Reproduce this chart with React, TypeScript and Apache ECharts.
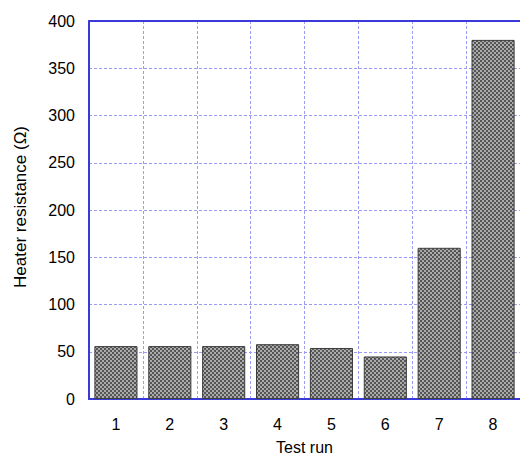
import React, { useEffect, useRef } from "react";
import * as echarts from "echarts";

const categories = ["1", "2", "3", "4", "5", "6", "7", "8"];
const resistance = [56, 56, 56, 58, 54, 45, 160, 380];
const yTicks = { min: 0, max: 400, interval: 50 };

function checkerPattern(): HTMLCanvasElement {
  const c = document.createElement("canvas");
  c.width = 4;
  c.height = 4;
  const ctx = c.getContext("2d")!;
  ctx.fillStyle = "#ababab";
  ctx.fillRect(0, 0, 4, 4);
  ctx.fillStyle = "#555555";
  ctx.fillRect(0, 0, 2, 2);
  ctx.fillRect(2, 2, 2, 2);
  return c;
}

export default function App() {
  const ref = useRef<HTMLDivElement>(null);

  useEffect(() => {
    document.body.style.margin = "0";
    document.body.style.overflow = "hidden";
    if (!ref.current) return;
    const chart = echarts.init(ref.current, undefined, { renderer: "svg" });
    const font = "Liberation Sans, Arial, sans-serif";
    const axisBlue = "#3a3ad8";
    const gridBlue = "#9c9cf4";

    chart.setOption({
      animation: false,
      grid: { left: 89, top: 21, right: 0, bottom: 56, containLabel: false },
      xAxis: [
        {
          type: "category",
          data: categories,
          position: "bottom",
          name: "Test run",
          nameLocation: "middle",
          nameGap: 40,
          nameTextStyle: { color: "#000", fontFamily: font, fontSize: 16 },
          axisLine: { show: true, lineStyle: { color: axisBlue, width: 2 } },
          axisTick: { show: false },
          axisLabel: { color: "#000", fontFamily: font, fontSize: 16, margin: 17 },
          splitLine: { show: true, lineStyle: { color: gridBlue, width: 1, type: [3, 2] } },
        },
        {
          type: "category",
          data: categories,
          position: "top",
          axisLine: { show: true, lineStyle: { color: axisBlue, width: 2 } },
          axisTick: { show: false },
          axisLabel: { show: false },
          splitLine: { show: false },
        },
      ],
      yAxis: {
        type: "value",
        min: yTicks.min,
        max: yTicks.max,
        interval: yTicks.interval,
        name: "Heater resistance (Ω)",
        nameLocation: "middle",
        nameGap: 60,
        nameTextStyle: { color: "#000", fontFamily: font, fontSize: 17, padding: [0, 0, 0, 6] },
        axisLine: { show: true, lineStyle: { color: axisBlue, width: 2 } },
        axisTick: { show: false },
        axisLabel: { color: "#000", fontFamily: font, fontSize: 16, margin: 14 },
        splitLine: { show: true, lineStyle: { color: gridBlue, width: 1, type: [3, 2] } },
      },
      series: [
        {
          type: "bar",
          data: resistance,
          barCategoryGap: "20%",
          itemStyle: {
            color: { image: checkerPattern(), repeat: "repeat" },
            borderColor: "#3c3c3c",
            borderWidth: 1,
          },
        },
      ],
    });

    return () => chart.dispose();
  }, []);

  return <div ref={ref} style={{ width: 520, height: 460 }} />;
}
